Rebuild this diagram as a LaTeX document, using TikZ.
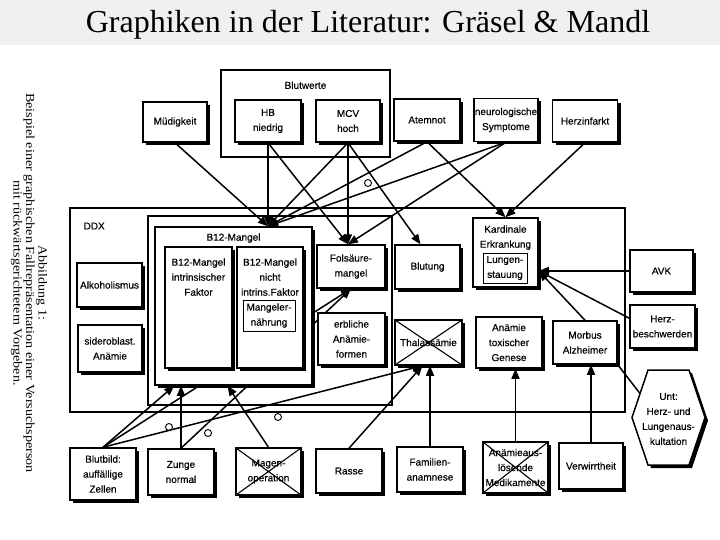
\documentclass[tikz,border=0pt]{standalone}
\usepackage{fontspec}
\setmainfont{Liberation Serif}
\newfontfamily\boxfont[FakeBold=0.4]{Liberation Sans}
\newfontfamily\capfont[FakeStretch=1.15]{Liberation Serif}
\usepackage{tikz}
\usetikzlibrary{positioning,arrows.meta,shadows,backgrounds}

\begin{document}
\begin{tikzpicture}[
  x=1pt, y=-1pt,
  font=\boxfont\fontsize{10}{15}\selectfont,
  boxnode/.style={rectangle, draw=black, line width=1.5pt, fill=white, align=center, inner sep=1pt,
    drop shadow={shadow xshift=3pt, shadow yshift=-3pt, opacity=1, fill=black}},
  boxsize/.style 2 args={minimum width=#1pt, minimum height=#2pt},
  crossnode/.style={boxnode, path picture={\draw[line width=1.1pt]
    (path picture bounding box.south west) -- (path picture bounding box.north east)
    (path picture bounding box.north west) -- (path picture bounding box.south east);}},
  groupnode/.style={rectangle, draw=black, line width=1.2pt, inner sep=0pt},
  innernode/.style={rectangle, draw=black, line width=0.9pt, fill=white, align=center, inner sep=1pt},
  hexline/.style={draw=black, line width=1.5pt, fill=white, line join=miter,
    drop shadow={shadow xshift=3pt, shadow yshift=-3pt, opacity=1, fill=black}},
  link/.style={line width=1.5pt, ->},
  every label/.style={inner sep=0pt, align=center},
  >={Triangle[length=10pt,width=8pt]}
]
  \useasboundingbox (0,0) rectangle (720,540);
  \begin{scope}[on background layer]
    \fill[white] (0,0) rectangle (720,540);
    \fill[gray!12] (0,0) rectangle (720,45);
  \end{scope}

  \node[font=\rmfamily\fontsize{32}{36}\selectfont, anchor=base] (title) at (368,33) {Graphiken in der Literatur: Gräsel \& Mandl};
  \node[font=\capfont\fontsize{12.3}{12.5}\selectfont, rotate=-90, align=center] (caption) at (29,283)
    {Abbildung 1:\\Beispiel einer graphischen Fallrepräsentation einer Versuchsperson\\mit rückwärtsgerichtetem Vorgeben.};

  \node[groupnode, boxsize={169}{87}, label={[anchor=north,yshift=-12pt]north:Blutwerte}] (blutwerte) at (305.5,113.5) {};
  \node[groupnode, boxsize={555}{204}, label={[anchor=north west,xshift=14pt,yshift=-15pt]north west:DDX}] (ddx) at (347.5,310) {};
  \node[groupnode, boxsize={244}{189}] (ddxinner) at (270,310.5) {};

  \node[boxnode, boxsize={64}{40}] (mued) at (175,122) {Müdigkeit};
  \node[boxnode, boxsize={66}{42}] (hb) at (268,121) {HB\\niedrig};
  \node[boxnode, boxsize={64}{42}] (mcv) at (348,121) {MCV\\hoch};
  \node[boxnode, boxsize={66}{42}] (atem) at (427,120) {Atemnot};
  \node[boxnode, boxsize={64}{43}] (neuro) at (506,120) {neurologische\\Symptome};
  \node[boxnode, boxsize={65}{42}] (herz) at (585,121) {Herzinfarkt};

  \node[boxnode, boxsize={157}{158}, label={[anchor=north,yshift=-7pt]north:B12-Mangel}] (b12) at (233.5,306) {};
  \node[boxnode, boxsize={67}{121}, label={[anchor=north,yshift=-12pt]north:B12-Mangel\\intrinsischer\\Faktor}] (b12i) at (198.5,307.5) {};
  \node[boxnode, boxsize={66}{121}, label={[anchor=north,yshift=-12pt]north:B12-Mangel\\nicht\\intrins.Faktor}] (b12n) at (270,307.5) {};
  \node[innernode, boxsize={52}{31}] (mangel) at (269,315.5) {Mangeler-\\nährung};
  \node[boxnode, boxsize={68}{43}] (fol) at (351,266.5) {Folsäure-\\mangel};
  \node[boxnode, boxsize={67}{52}] (erb) at (351.5,339) {erbliche\\Anämie-\\formen};
  \node[boxnode, boxsize={65}{44}] (alk) at (109.5,285) {Alkoholismus};
  \node[boxnode, boxsize={64}{47}] (sid) at (110,348.5) {sideroblast.\\Anämie};
  \node[boxnode, boxsize={65}{44}] (blut) at (427.5,267) {Blutung};
  \node[boxnode, boxsize={65}{69}, label={[anchor=north,yshift=-8pt]north:Kardinale\\Erkrankung}] (kard) at (505.5,252.5) {};
  \node[innernode, boxsize={44}{30}] (lung) at (505,268) {Lungen-\\stauung};
  \node[boxnode, boxsize={63}{42}] (avk) at (661.5,271) {AVK};
  \node[boxnode, boxsize={65}{43}] (herzb) at (662.5,326.5) {Herz-\\beschwerden};
  \node[crossnode, boxsize={67}{45}] (thal) at (428.5,342.5) {Thalassämie};
  \node[boxnode, boxsize={66}{51}] (tox) at (509,342.5) {Anämie\\toxischer\\Genese};
  \node[boxnode, boxsize={64}{43}] (morbus) at (585,342.5) {Morbus\\Alzheimer};
  \filldraw[hexline] (648,370) -- (689,370) -- (705,417.5) -- (689,465) -- (648,465) -- (632,417.5) -- cycle;
  \node[align=center, inner sep=0pt] (unt) at (668.5,419) {Unt:\\Herz- und\\Lungenaus-\\kultation};
  \coordinate (untedge) at (640,393.5);

  \node[boxnode, boxsize={66}{52}] (bb) at (103,474) {Blutbild:\\auffällige\\Zellen};
  \node[boxnode, boxsize={66}{46}] (zunge) at (181,472) {Zunge\\normal};
  \node[crossnode, boxsize={65}{47}] (magen) at (268.5,471.5) {Magen-\\operation};
  \node[boxnode, boxsize={66}{44}] (rasse) at (349,471) {Rasse};
  \node[boxnode, boxsize={66}{45}] (fam) at (430,469.5) {Familien-\\anamnese};
  \node[crossnode, boxsize={65}{51}] (med) at (515.5,467.5) {Anämieaus-\\lösende\\Medikamente};
  \node[boxnode, boxsize={64}{46}] (verw) at (591,466) {Verwirrtheit};

  \coordinate (b12top) at (hb.south |- b12.north);
  \coordinate (foltop) at (mcv.south |- fol.north);
  \coordinate (kardright) at (kard.east |- avk.west);
  \coordinate (thalin) at ([xshift=-6pt]thal.south);
  \coordinate (b12bl) at ([xshift=20pt]b12.south west);
  \coordinate (b12bm) at ([xshift=-6pt]b12.south);

  \begin{scope}[on background layer]
    \draw[link] (mued.south) -- (b12top);
    \draw[link] (hb.south) -- (b12top);
    \draw[link] (hb.south) -- (foltop);
    \draw[link] (mcv.south) -- (b12top);
    \draw[link] (mcv.south) -- (foltop);
    \draw[link] (mcv.south) -- ([xshift=-7pt]blut.north);
    \draw[link] (atem.south) -- (b12top);
    \draw[link] (atem.south) -- (kard.north);
    \draw[link] (neuro.south) -- (b12top);
    \draw[link] (neuro.south) -- (foltop);
    \draw[link] (herz.south) -- (kard.north);
    \draw[link] (avk.west) -- (kardright);
    \draw[link] ([yshift=-14pt]herzb.north west) -- (kardright);
    \draw[link] (morbus.north) -- (kardright);
    \draw[link, -] (morbus.south east) -- (untedge);
    \draw[link] (bb.north) -- (b12bl);
    \draw[link] (bb.north) -- (fol.south);
    \draw[link] (bb.north) -- (thalin);
    \draw[link] (zunge.north) -- (zunge.north |- b12.south);
    \draw[link] (zunge.north) -- (fol.south);
    \draw[link] (magen.north) -- (b12bm);
    \draw[link] (rasse.north) -- (thalin);
    \draw[link] (fam.north) -- (fam.north |- thal.south);
    \draw[link] (med.north) -- (med.north |- tox.south);
    \draw[link] (verw.north) -- (verw.north |- morbus.south);
  \end{scope}

  \draw[line width=0.9pt] (368,183) circle[radius=3.5pt] (169,427) circle[radius=3.5pt]
    (208,433) circle[radius=3.5pt] (278,417) circle[radius=3.5pt];
\end{tikzpicture}
\end{document}
